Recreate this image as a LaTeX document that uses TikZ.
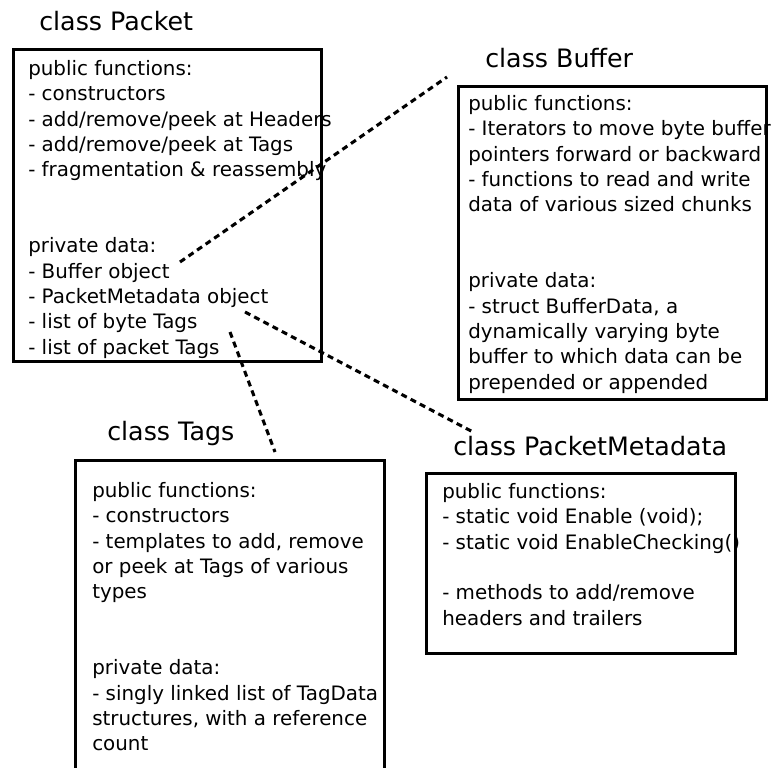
\documentclass[tikz,border=0pt]{standalone}
\usepackage{fontspec}
\setmainfont{DejaVu Sans}
\begin{document}
\begin{tikzpicture}[x=0.75pt,y=-0.75pt,
  classbox/.style={draw=black, line width=2.1pt, rectangle, inner sep=0pt, anchor=north west},
  title/.style={anchor=base west, inner sep=0pt, font=\fontsize{19}{22}\selectfont},
  body/.style={anchor=north west, inner sep=0pt, align=left, font=\fontsize{14.9}{19}\selectfont},
  link/.style={draw=black, line width=2.3pt, dash pattern=on 4.5pt off 3.3pt}]
\useasboundingbox (0,0) rectangle (776,768);
\clip (0,0) rectangle (776,768);

% class Packet
\node[title] (tpacket) at (39,30) {class Packet};
\node[classbox, minimum width=308*0.75pt, minimum height=312*0.75pt] (bpacket) at (12,48) {};
\node[body] (xpacket) at (28,60) {public functions:\\- constructors\\- add/remove/peek at Headers\\- add/remove/peek at Tags\\- fragmentation \& reassembly\\[38pt]private data:\\- Buffer object\\- PacketMetadata object\\- list of byte Tags\\- list of packet Tags};

% class Buffer
\node[title] (tbuffer) at (485,67) {class Buffer};
\node[classbox, minimum width=308*0.75pt, minimum height=313*0.75pt] (bbuffer) at (457,85) {};
\node[body] (xbuffer) at (468,95) {public functions:\\- Iterators to move byte buffer\\pointers forward or backward\\- functions to read and write\\data of various sized chunks\\[38pt]private data:\\- struct BufferData, a\\dynamically varying byte\\buffer to which data can be\\prepended or appended};

% class Tags
\node[title] (ttags) at (107,440) {class Tags};
\node[classbox, minimum width=309*0.75pt, minimum height=330*0.75pt] (btags) at (74,459) {};
\node[body] (xtags) at (92,482) {public functions:\\- constructors\\- templates to add, remove\\or peek at Tags of various\\types\\[38pt]private data:\\- singly linked list of TagData\\structures, with a reference\\count};

% class PacketMetadata
\node[title] (tmeta) at (453,455) {class PacketMetadata};
\node[classbox, minimum width=309*0.75pt, minimum height=180*0.75pt] (bmeta) at (425,472) {};
\node[body] (xmeta) at (442,483) {public functions:\\- static void Enable (void);\\- static void EnableChecking()\\[19pt]- methods to add/remove\\headers and trailers};

% connectors
\coordinate (cbufobj) at (180,262);
\coordinate (cbufend) at (447,77);
\coordinate (cmetaobj) at (245,312);
\coordinate (cmetaend) at (473,432);
\coordinate (ctagsobj) at (230,332);
\coordinate (ctagsend) at (275,452);
\draw[link] (cbufobj) -- (cbufend);
\draw[link] (cmetaobj) -- (cmetaend);
\draw[link] (ctagsobj) -- (ctagsend);
\end{tikzpicture}
\end{document}
